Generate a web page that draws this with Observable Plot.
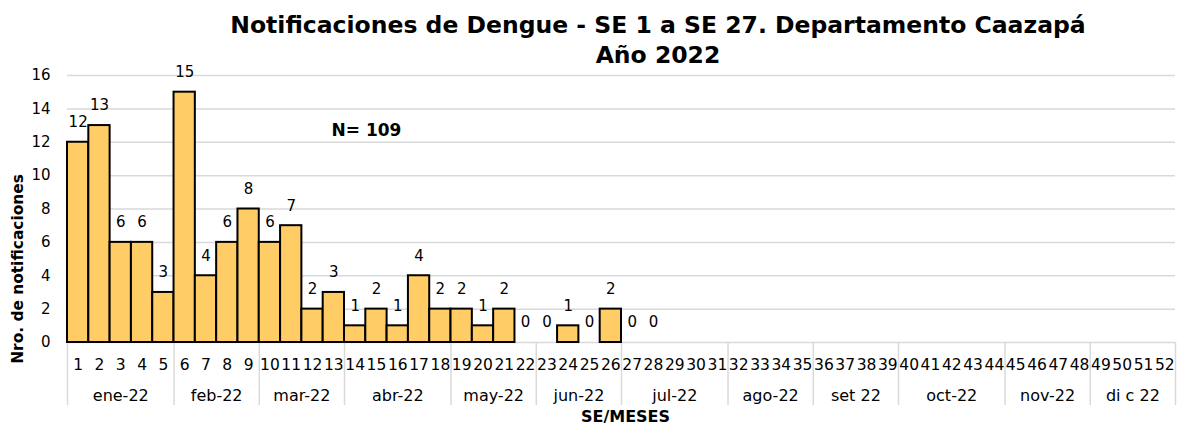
<!DOCTYPE html>
<html>
<head>
<meta charset="utf-8">
<script src="https://cdn.jsdelivr.net/npm/d3@7"></script>
<script src="https://cdn.jsdelivr.net/npm/@observablehq/plot@0.6"></script>
<style>
  html, body { margin: 0; padding: 0; background: #fff; }
  body { width: 1184px; height: 426px; overflow: hidden; font-family: "DejaVu Sans", Verdana, sans-serif; }
  #title { height: 65px; box-sizing: border-box; padding-top: 10px; padding-left: 132px; text-align: center;
           font-weight: bold; font-size: 23.5px; line-height: 30px; color: #000; }
  #chart svg { display: block; overflow: visible; }
</style>
</head>
<body>
<div id="title">Notificaciones de Dengue - SE 1 a SE 27. Departamento Caazapá<br>Año 2022</div>
<div id="chart"></div>
<script>
const weeks = d3.range(1, 53);
const caseWeeks = [1,2,3,4,5,6,7,8,9,10,11,12,13,14,15,16,17,18,19,20,21,22,23,24,25,26,27,28];
const cases =     [12,13,6,6,3,15,4,6,8,6,7,2,3,1,2,1,4,2,2,1,2,0,0,1,0,2,0,0];
const monthNames = ["ene-22","feb-22","mar-22","abr-22","may-22","jun-22","jul-22","ago-22","set 22","oct-22","nov-22","di c 22"];
const monthFirstWeek = [1,6,10,14,19,23,27,32,36,40,45,49];
const monthLastWeek  = [5,9,13,18,22,26,31,35,39,44,48,52];
const yTicks = [0,2,4,6,8,10,12,14,16];
const totalLabel = "N= 109";
const yLabel = "Nro. de notificaciones";
const xLabel = "SE/MESES";

const data = caseWeeks.map((w, i) => ({w, v: cases[i]}));
const months = monthNames.map((m, i) => ({m, a: monthFirstWeek[i], b: monthLastWeek[i]}));
const bounds = [monthFirstWeek[0] - 0.5, ...monthLastWeek.map(d => d + 0.5)];

const font = "DejaVu Sans, Verdana, sans-serif";
const chart = Plot.plot({
  width: 1184,
  height: 361,
  marginLeft: 67,
  marginRight: 9,
  marginTop: 10,
  marginBottom: 84,
  style: {fontFamily: font, fontSize: "14px", color: "#000", background: "#fff", overflow: "visible"},
  x: {domain: [0.5, 52.5]},
  y: {domain: [0, 16]},
  marks: [
    Plot.gridY(yTicks, {stroke: "#d9d9d9", strokeOpacity: 1, strokeWidth: 1.5}),
    Plot.axisY(yTicks, {tickSize: 0, tickPadding: 17, fontSize: 15, label: null}),
    Plot.axisX(weeks, {tickSize: 0, tickPadding: 16, fontSize: 15.5, label: null, tickFormat: d => String(d)}),
    Plot.ruleX(bounds, {x: d => d, y1: 0, y2: 0, insetBottom: -63, stroke: "#d9d9d9", strokeWidth: 1.5}),
    Plot.rect(data.filter(d => d.v > 0), {x1: d => d.w - 0.5, x2: d => d.w + 0.5, y1: 0, y2: "v",
      fill: "#FFCC66", stroke: "#000", strokeWidth: 2}),
    Plot.text(data, {x: "w", y: "v", text: d => String(d.v), dy: -20, fontSize: 15}),
    Plot.text(months, {x: d => (d.a + d.b) / 2, text: "m", frameAnchor: "bottom", dy: 58, fontSize: 16}),
    Plot.text([xLabel], {frameAnchor: "bottom", textAnchor: "middle", dx: 4, dy: 79, fontWeight: "bold", fontSize: 16}),
    Plot.text([yLabel], {frameAnchor: "left", textAnchor: "middle", rotate: -90, dx: -49, dy: 60, fontWeight: "bold", fontSize: 15.4}),
    Plot.text([totalLabel], {frameAnchor: "top-left", textAnchor: "start", dx: 264, dy: 48, fontWeight: "bold", fontSize: 17})
  ]
});
document.getElementById("chart").appendChild(chart);
</script>
</body>
</html>
